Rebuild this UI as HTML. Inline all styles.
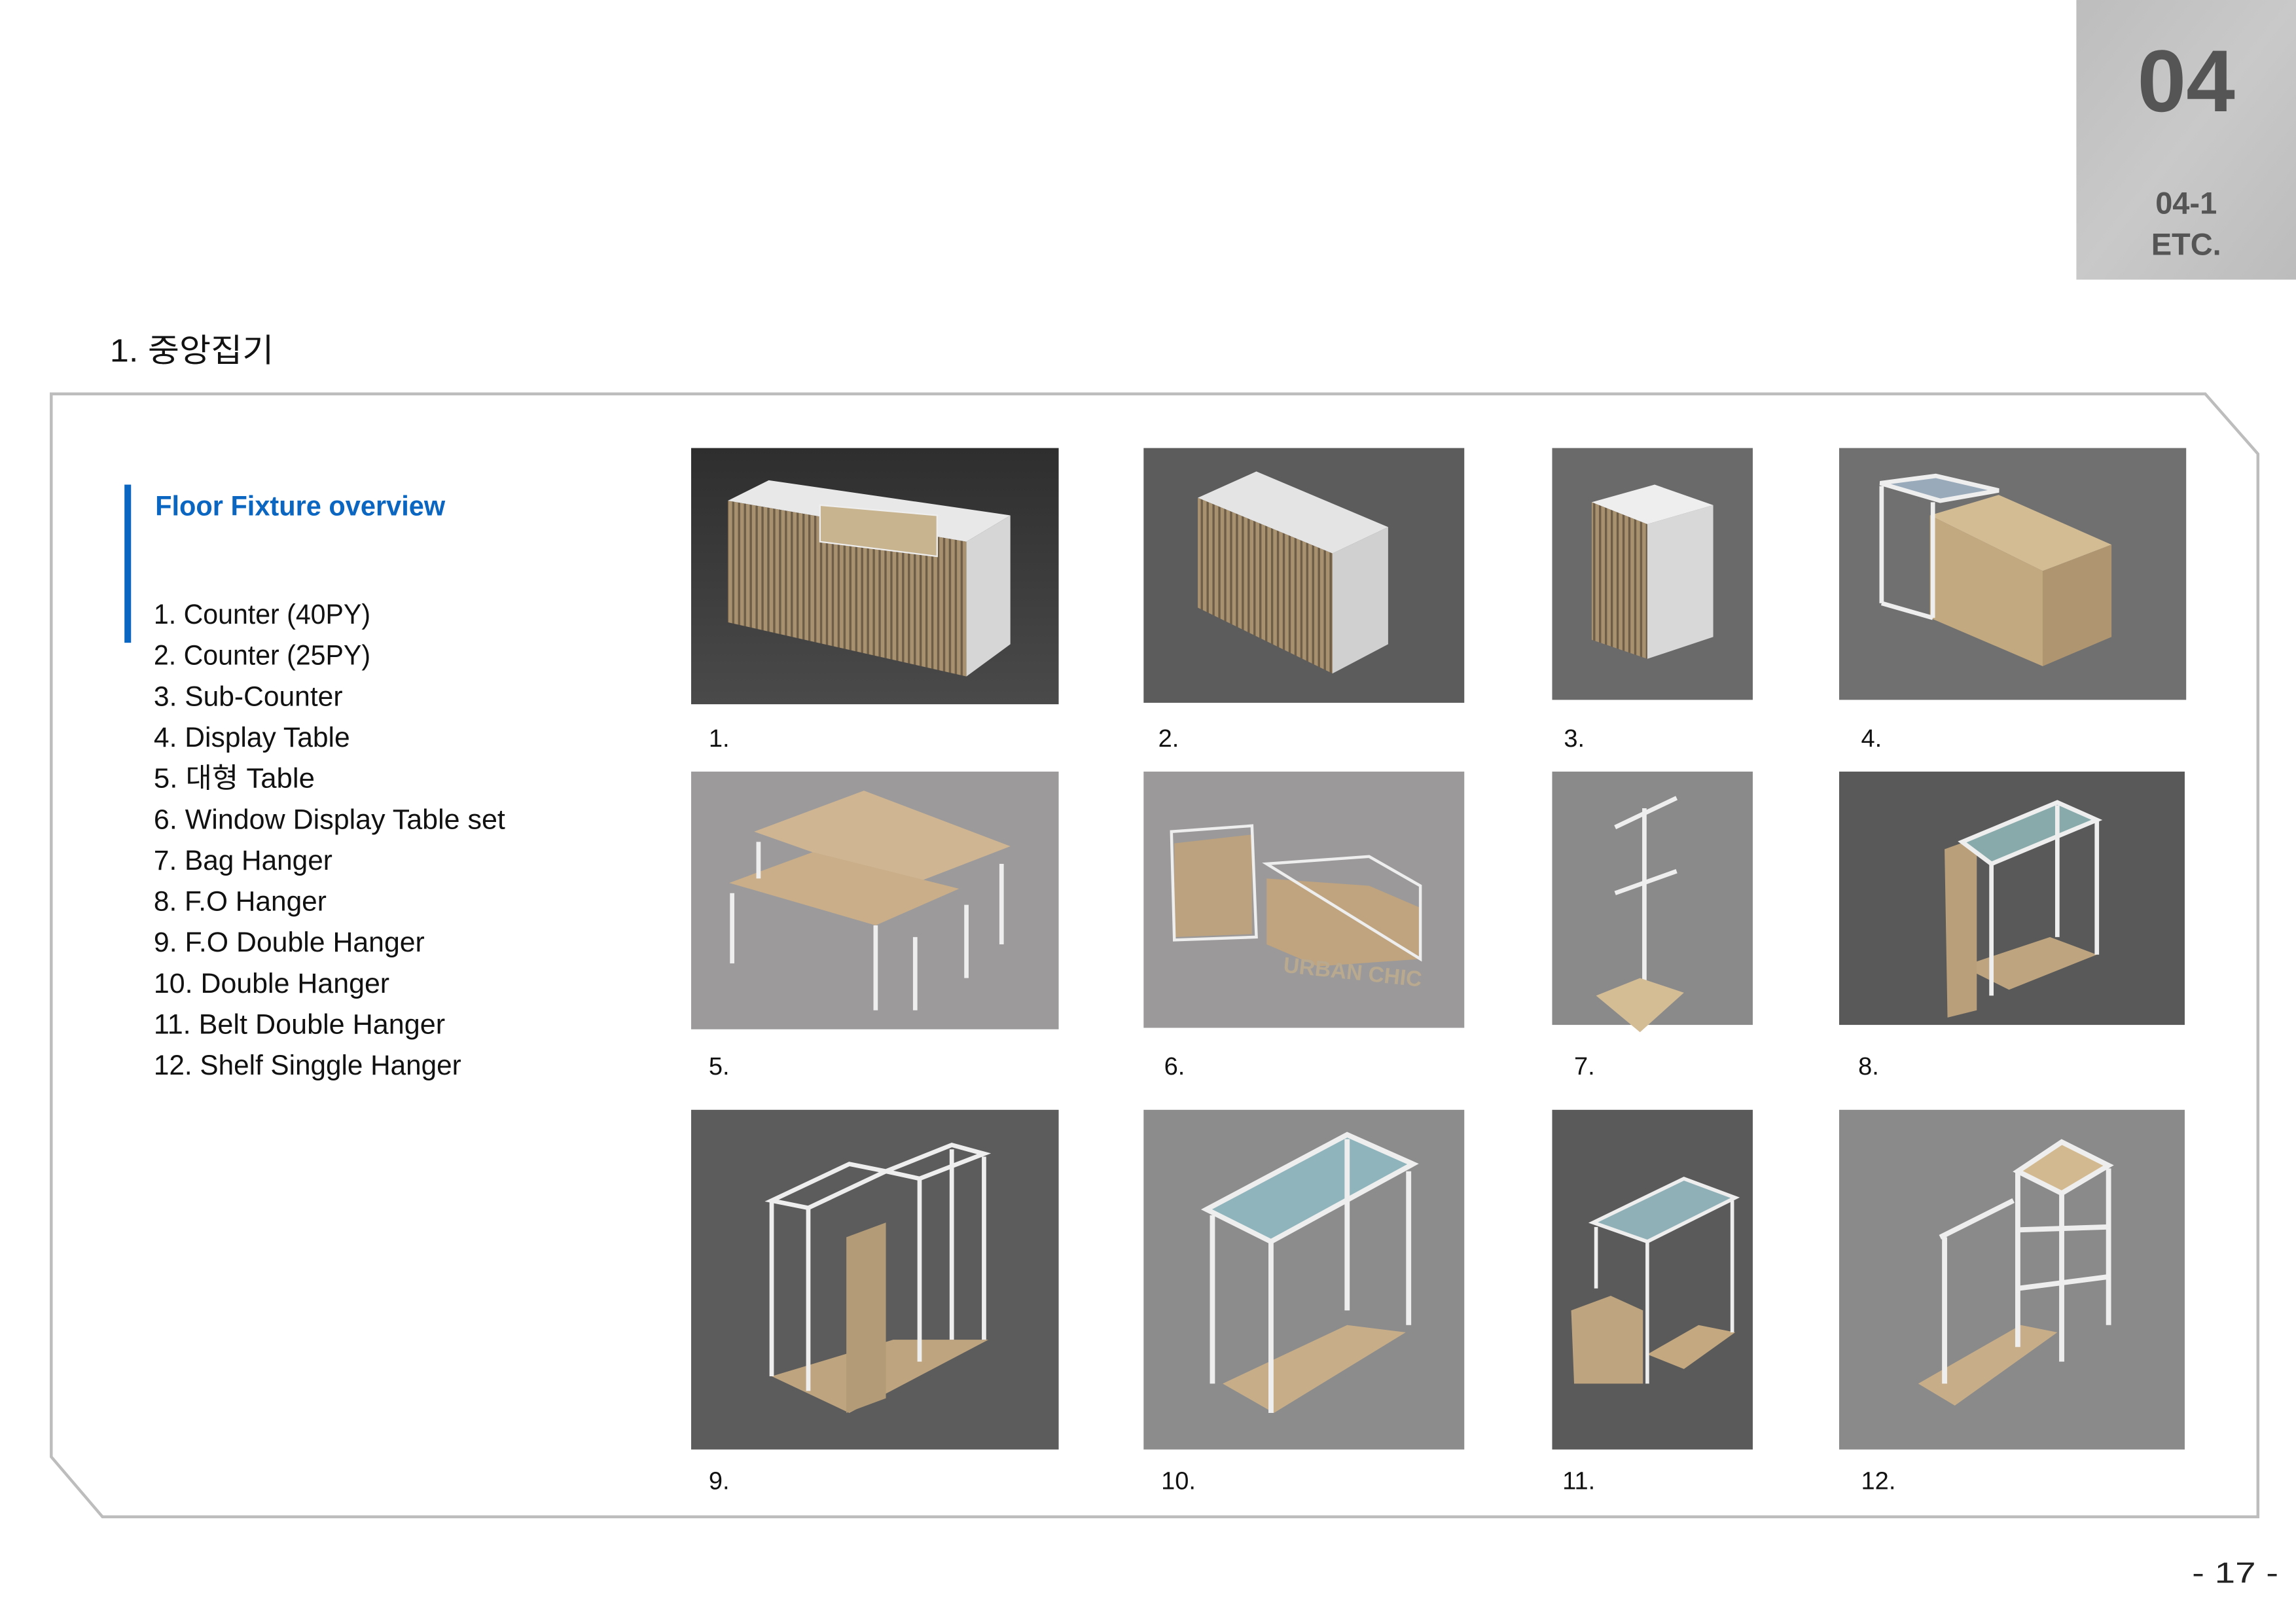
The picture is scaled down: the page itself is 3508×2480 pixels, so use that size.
<!DOCTYPE html>
<html><head><meta charset="utf-8"><style>
html,body{margin:0;padding:0;background:#fff;}
svg{display:block;}
text{font-family:"Liberation Sans","Noto Sans CJK KR",sans-serif;}
</style></head><body>
<svg width="3508" height="2480" viewBox="0 0 1568 1108.5" xmlns="http://www.w3.org/2000/svg">
<defs>
<linearGradient id="gb" x1="0" y1="0" x2="1" y2="1">
<stop offset="0" stop-color="#bdbdbd"/><stop offset="0.5" stop-color="#c9c9c9"/><stop offset="1" stop-color="#bcbcbc"/>
</linearGradient>
<pattern id="str" width="4" height="10" patternUnits="userSpaceOnUse">
<rect width="4" height="10" fill="#a8916f"/><rect width="1.5" height="10" fill="#6e5d47"/>
</pattern>
<linearGradient id="d1" x1="0" y1="0" x2="0" y2="1"><stop offset="0" stop-color="#2e2e2e"/><stop offset="1" stop-color="#4a4a4a"/></linearGradient>
</defs>
<rect width="1568" height="1108.5" fill="#fff"/>
<!-- header box -->
<rect x="1418" y="0" width="150" height="191" fill="url(#gb)"/>
<text x="1493" y="76" text-anchor="middle" font-size="60" font-weight="bold" fill="#555">04</text>
<text x="1493" y="146" text-anchor="middle" font-size="21" font-weight="bold" fill="#555">04-1</text>
<text x="1493" y="174" text-anchor="middle" font-size="21" font-weight="bold" fill="#555">ETC.</text>
<!-- title -->
<text x="75" y="247" font-size="22" fill="#111" textLength="112" lengthAdjust="spacingAndGlyphs">1. 중앙집기</text>
<!-- frame -->
<polygon points="35,269 1506,269 1542,310 1542,1036 70,1036 35,995" fill="none" stroke="#bdbdbd" stroke-width="2"/>
<rect x="85" y="331" width="4.5" height="108" fill="#0a66c0"/>
<text x="106" y="352" font-size="19" font-weight="bold" fill="#0a66c0" textLength="198" lengthAdjust="spacingAndGlyphs">Floor Fixture overview</text>
<g font-size="19" fill="#111">
<text x="105" y="426" textLength="148" lengthAdjust="spacingAndGlyphs">1. Counter (40PY)</text>
<text x="105" y="454" textLength="148" lengthAdjust="spacingAndGlyphs">2. Counter (25PY)</text>
<text x="105" y="482" textLength="129" lengthAdjust="spacingAndGlyphs">3. Sub-Counter</text>
<text x="105" y="510" textLength="134" lengthAdjust="spacingAndGlyphs">4. Display Table</text>
<text x="105" y="538" textLength="110" lengthAdjust="spacingAndGlyphs">5. 대형 Table</text>
<text x="105" y="566" textLength="240" lengthAdjust="spacingAndGlyphs">6. Window Display Table set</text>
<text x="105" y="594" textLength="122" lengthAdjust="spacingAndGlyphs">7. Bag Hanger</text>
<text x="105" y="622" textLength="118" lengthAdjust="spacingAndGlyphs">8. F.O Hanger</text>
<text x="105" y="650" textLength="185" lengthAdjust="spacingAndGlyphs">9. F.O Double Hanger</text>
<text x="105" y="678" textLength="161" lengthAdjust="spacingAndGlyphs">10. Double Hanger</text>
<text x="105" y="706" textLength="199" lengthAdjust="spacingAndGlyphs">11. Belt Double Hanger</text>
<text x="105" y="734" textLength="210" lengthAdjust="spacingAndGlyphs">12. Shelf Singgle Hanger</text>
</g>
<!-- image backgrounds -->
<rect x="472" y="306" width="251" height="175" fill="url(#d1)"/>
<rect x="781" y="306" width="219" height="174" fill="#5c5c5c"/>
<rect x="1060" y="306" width="137" height="172" fill="#6a6a6a"/>
<rect x="1256" y="306" width="237" height="172" fill="#707070"/>
<rect x="472" y="527" width="251" height="176" fill="#9c9a9a"/>
<rect x="781" y="527" width="219" height="175" fill="#9b9999"/>
<rect x="1060" y="527" width="137" height="173" fill="#8a8a8a"/>
<rect x="1256" y="527" width="236" height="173" fill="#595959"/>
<rect x="472" y="758" width="251" height="232" fill="#5c5c5c"/>
<rect x="781" y="758" width="219" height="232" fill="#8c8c8c"/>
<rect x="1060" y="758" width="137" height="232" fill="#5a5a5a"/>
<rect x="1256" y="758" width="236" height="232" fill="#8a8a8a"/>
<!-- 1 counter -->
<polygon points="497,342 525,328 690,352 660,370" fill="#e8e8e8"/>
<polygon points="497,342 660,370 660,462 497,425" fill="url(#str)"/>
<polygon points="660,370 690,352 690,440 660,462" fill="#d6d6d6"/>
<polygon points="560,345 640,352 640,380 560,370" fill="#c8b48f" stroke="#eee"/>
<!-- 2 counter -->
<polygon points="818,340 858,322 948,360 910,378" fill="#e4e4e4"/>
<polygon points="818,340 910,378 910,460 818,415" fill="url(#str)"/>
<polygon points="910,378 948,360 948,440 910,460" fill="#d0d0d0"/>
<!-- 3 -->
<polygon points="1087,343 1130,331 1170,345 1125,358" fill="#eee"/>
<polygon points="1087,343 1125,358 1125,450 1087,437" fill="url(#str)"/>
<polygon points="1125,358 1170,345 1170,435 1125,450" fill="#d8d8d8"/>
<!-- 4 -->
<polygon points="1318,352 1365,338 1442,372 1395,390" fill="#d3bc94"/>
<polygon points="1318,352 1395,390 1395,455 1318,422" fill="#c3a97f"/>
<polygon points="1395,390 1442,372 1442,435 1395,455" fill="#b09670"/>
<g fill="none" stroke="#eee" stroke-width="3">
<polygon points="1284,330 1322,325 1365,335 1325,342" fill="#9ab"/>
<line x1="1285" y1="332" x2="1285" y2="412"/><line x1="1320" y1="343" x2="1320" y2="422"/><line x1="1285" y1="412" x2="1320" y2="422"/>
</g>
<!-- 5 tables -->
<polygon points="515,568 590,540 690,578 620,605" fill="#cfb592"/>
<polygon points="498,603 555,582 655,607 598,632" fill="#c9ae89"/>
<g stroke="#eee" stroke-width="3" fill="none">
<polyline points="500,610 500,658"/><polyline points="598,632 598,690"/><polyline points="625,640 625,690"/><polyline points="660,618 660,668"/><polyline points="684,590 684,645"/>
<polyline points="518,575 518,600"/>
</g>
<!-- 6 -->
<polygon points="802,576 855,570 855,638 802,640" fill="#bca27e"/>
<polygon points="865,600 935,605 970,620 970,655 900,660 865,645" fill="#bfa47f"/>
<g stroke="#eee" stroke-width="2" fill="none">
<polygon points="800,568 855,564 858,640 802,642"/><polygon points="865,590 935,585 970,605 970,655"/>
</g>
<text x="876" y="664" font-size="15" font-weight="bold" fill="#b8a98f" transform="rotate(6 876 664)">URBAN CHIC</text>
<!-- 7 -->
<g stroke="#eee" stroke-width="3"><line x1="1123" y1="552" x2="1123" y2="675"/><line x1="1103" y1="565" x2="1145" y2="545"/><line x1="1103" y1="610" x2="1145" y2="595"/></g>
<polygon points="1090,680 1120,668 1150,678 1120,705" fill="#d4bc95"/>
<!-- 8 -->
<polygon points="1340,660 1400,640 1432,652 1372,676" fill="#bfa57f"/>
<polygon points="1328,580 1350,572 1350,690 1330,695" fill="#b99f7a"/>
<g stroke="#eee" stroke-width="3" fill="none">
<polygon points="1340,575 1405,548 1432,560 1360,590" fill="#8aa"/>
<line x1="1360" y1="590" x2="1360" y2="680"/><line x1="1432" y1="560" x2="1432" y2="652"/><line x1="1405" y1="550" x2="1405" y2="640"/>
</g>
<!-- 9 -->
<polygon points="527,940 610,915 675,915 580,965" fill="#bfa57f"/>
<polygon points="578,845 605,835 605,955 578,965" fill="#b39b77"/>
<g stroke="#eee" stroke-width="3" fill="none">
<polygon points="527,820 580,795 605,800 552,825"/><polygon points="605,800 650,782 672,788 628,805"/>
<line x1="527" y1="820" x2="527" y2="940"/><line x1="552" y1="825" x2="552" y2="950"/><line x1="650" y1="785" x2="650" y2="915"/><line x1="672" y1="790" x2="672" y2="915"/><line x1="628" y1="805" x2="628" y2="930"/>
</g>
<!-- 10 -->
<polygon points="835,945 920,905 960,910 870,965" fill="#c8ae88"/>
<g stroke="#eee" stroke-width="3.5" fill="none">
<polygon points="824,826 920,775 965,795 868,848" fill="#8fb4bb"/>
<line x1="828" y1="830" x2="828" y2="945"/><line x1="868" y1="848" x2="868" y2="965"/><line x1="962" y1="800" x2="962" y2="905"/><line x1="920" y1="778" x2="920" y2="895"/>
</g>
<!-- 11 -->
<polygon points="1073,895 1100,885 1122,895 1122,945 1075,945" fill="#bfa57f"/>
<polygon points="1125,925 1160,905 1185,910 1150,935" fill="#c3a880"/>
<g stroke="#eee" stroke-width="2.5" fill="none">
<polygon points="1088,835 1150,805 1185,818 1125,848" fill="#8fb0b6"/>
<line x1="1090" y1="838" x2="1090" y2="880"/><line x1="1125" y1="848" x2="1125" y2="945"/><line x1="1183" y1="820" x2="1183" y2="910"/>
</g>
<!-- 12 -->
<polygon points="1310,945 1380,905 1405,910 1335,960" fill="#c8ae88"/>
<g stroke="#eee" stroke-width="3.5" fill="none">
<polygon points="1378,800 1408,780 1440,796 1408,815" fill="#d2b990"/>
<line x1="1378" y1="800" x2="1378" y2="920"/><line x1="1408" y1="815" x2="1408" y2="930"/><line x1="1440" y1="798" x2="1440" y2="905"/>
<line x1="1378" y1="840" x2="1440" y2="838"/><line x1="1378" y1="880" x2="1440" y2="872"/>
<line x1="1325" y1="845" x2="1375" y2="820"/><line x1="1328" y1="845" x2="1328" y2="945"/>
</g>
<!-- labels -->
<g font-size="17" fill="#111">
<text x="484" y="510">1.</text><text x="791" y="510">2.</text><text x="1068" y="510">3.</text><text x="1271" y="510">4.</text>
<text x="484" y="734">5.</text><text x="795" y="734">6.</text><text x="1075" y="734">7.</text><text x="1269" y="734">8.</text>
<text x="484" y="1017">9.</text><text x="793" y="1017">10.</text><text x="1067" y="1017">11.</text><text x="1271" y="1017">12.</text>
</g>
<text x="1497" y="1081" font-size="20" fill="#222" textLength="59" lengthAdjust="spacingAndGlyphs">- 17 -</text>
</svg>
</body></html>
